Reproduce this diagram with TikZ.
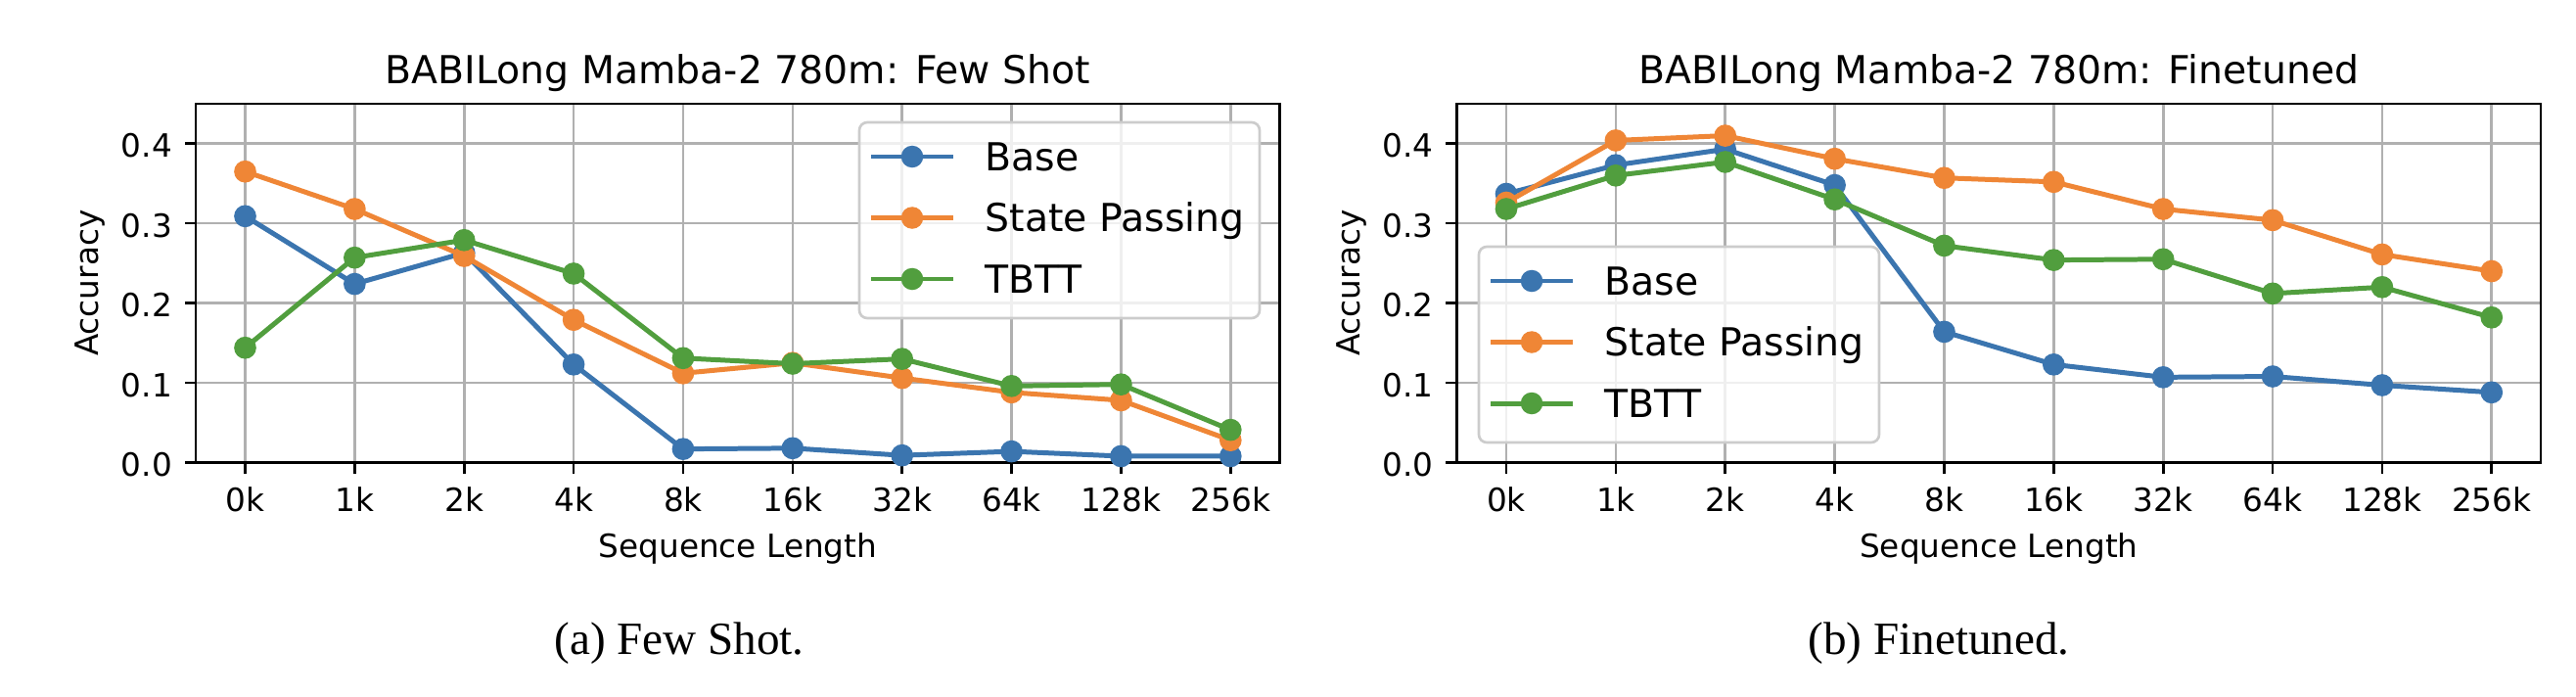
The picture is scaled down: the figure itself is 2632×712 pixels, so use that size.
\documentclass[tikz,border=0pt]{standalone}
\usepackage{fontspec}
\setmainfont{Liberation Serif}
\newfontfamily\plotfont{DejaVu Sans}
\usepackage{tikz}

\definecolor{baseblue}{RGB}{59,117,175}
\definecolor{passorange}{RGB}{239,134,54}
\definecolor{tbttgreen}{RGB}{81,158,62}
\definecolor{gridgray}{RGB}{176,176,176}
\definecolor{legendgray}{RGB}{204,204,204}

\tikzset{
	gridline/.style={gridgray, line width=0.75pt},
	spine/.style={black, line width=0.75pt},
	ticklabel/.style={font=\plotfont\fontsize{9.3}{11}\selectfont, inner sep=0pt},
	biglabel/.style={font=\plotfont\fontsize{11.2}{13}\selectfont, inner sep=0pt},
	caplabel/.style={font=\fontsize{13.4}{16}\selectfont, inner sep=0pt},
	dataline/.style={line width=1.42pt, mark=*, mark size=2.5pt, mark options={solid}},
	legendframe/.style={draw=legendgray, fill=white, fill opacity=0.8, rounded corners=2.3pt, line width=0.75pt}
}

% legend at top left corner (#1,#2), names #3-1 .. #3-3
\def\legendbox(#1,#2)#3{%
	\draw[legendframe] (#1,#2) rectangle ++(409,200);
	\foreach \c/\lbl/\dy [count=\k] in {baseblue/Base/35, passorange/State Passing/97.5, tbttgreen/TBTT/160}{%
		\draw[\c, line width=1.42pt] (#1+12,#2+\dy) -- ++(84,0);
		\fill[\c] (#1+54,#2+\dy) circle (3.2pt);
		\node[biglabel, anchor=base west] (#3-\k) at (#1+128,#2+\dy+14.4) {\lbl};
	}%
}

\begin{document}
\begin{tikzpicture}[x=0.01cm, y=-0.01cm]
	%%%%% START %%%%%
	
	\useasboundingbox[fill=white] (0,0) rectangle (2632,712);
	
	% axes, grid, ticks
	\foreach \ox/\nm/\ttl in {250.5/few/Few Shot, 1539/fine/Finetuned}{
		\begin{scope}[shift={(\ox,472.5)}, x=1.118cm, y=8.14cm]
			\foreach \i in {0,...,9} \draw[gridline] (\i,0) -- (\i,0.45);
			\foreach \v in {0,...,4} \draw[gridline] (-0.45,{\v/10}) -- (9.45,{\v/10});
			\draw[spine] (-0.45,0) rectangle (9.45,0.45);
			
			\foreach \lbl [count=\i from 0] in {0k,1k,2k,4k,8k,16k,32k,64k,128k,256k}{
				\draw[spine] (\i,0) -- ++(0,-0.115cm);
				\node[ticklabel, anchor=base, yshift=-0.495cm] (\nm-x\i) at (\i,0) {\lbl};
			}
			\foreach \v in {0,...,4}{
				\draw[spine] (-0.45,{\v/10}) -- ++(-0.115cm,0);
				\node[ticklabel, anchor=base east, xshift=-0.235cm, yshift=-0.14cm] (\nm-y\v) at (-0.45,{\v/10}) {0.\v};
			}
			
			\node[ticklabel, anchor=base, yshift=-0.965cm] (\nm-xlabel) at (4.5,0) {Sequence Length};
			\node[ticklabel, xshift=-1.08cm, rotate=90] (\nm-ylabel) at (-0.45,0.225) {Accuracy};
			\node[biglabel, anchor=base, yshift=0.2cm] (\nm-title) at (4.5,0.45) {BABILong Mamba-2 780m: \ttl};
		\end{scope}
	}
	
	% few shot data
	\begin{scope}[shift={(250.5,472.5)}, x=1.118cm, y=8.14cm]
		\draw[dataline, baseblue] plot coordinates {(0,0.309) (1,0.224) (2,0.263) (3,0.123) (4,0.017) (5,0.018) (6,0.009) (7,0.014) (8,0.008) (9,0.008)};
		\draw[dataline, passorange] plot coordinates {(0,0.365) (1,0.318) (2,0.259) (3,0.179) (4,0.112) (5,0.125) (6,0.106) (7,0.088) (8,0.078) (9,0.028)};
		\draw[dataline, tbttgreen] plot coordinates {(0,0.144) (1,0.257) (2,0.279) (3,0.237) (4,0.131) (5,0.124) (6,0.130) (7,0.096) (8,0.098) (9,0.041)};
	\end{scope}
	
	% finetuned data
	\begin{scope}[shift={(1539,472.5)}, x=1.118cm, y=8.14cm]
		\draw[dataline, baseblue] plot coordinates {(0,0.337) (1,0.373) (2,0.393) (3,0.348) (4,0.164) (5,0.123) (6,0.107) (7,0.108) (8,0.097) (9,0.088)};
		\draw[dataline, passorange] plot coordinates {(0,0.326) (1,0.404) (2,0.410) (3,0.381) (4,0.357) (5,0.352) (6,0.318) (7,0.304) (8,0.261) (9,0.240)};
		\draw[dataline, tbttgreen] plot coordinates {(0,0.318) (1,0.360) (2,0.377) (3,0.330) (4,0.272) (5,0.254) (6,0.255) (7,0.212) (8,0.220) (9,0.182)};
	\end{scope}
	
	\legendbox(878,125){few-leg}
	\legendbox(1511,252){fine-leg}
	
	\node[caplabel] (cap-a) at (694,657) {(a) Few Shot.};
	\node[caplabel] (cap-b) at (1981,657) {(b) Finetuned.};
	
	%%%%% END %%%%%
\end{tikzpicture}
\end{document}
